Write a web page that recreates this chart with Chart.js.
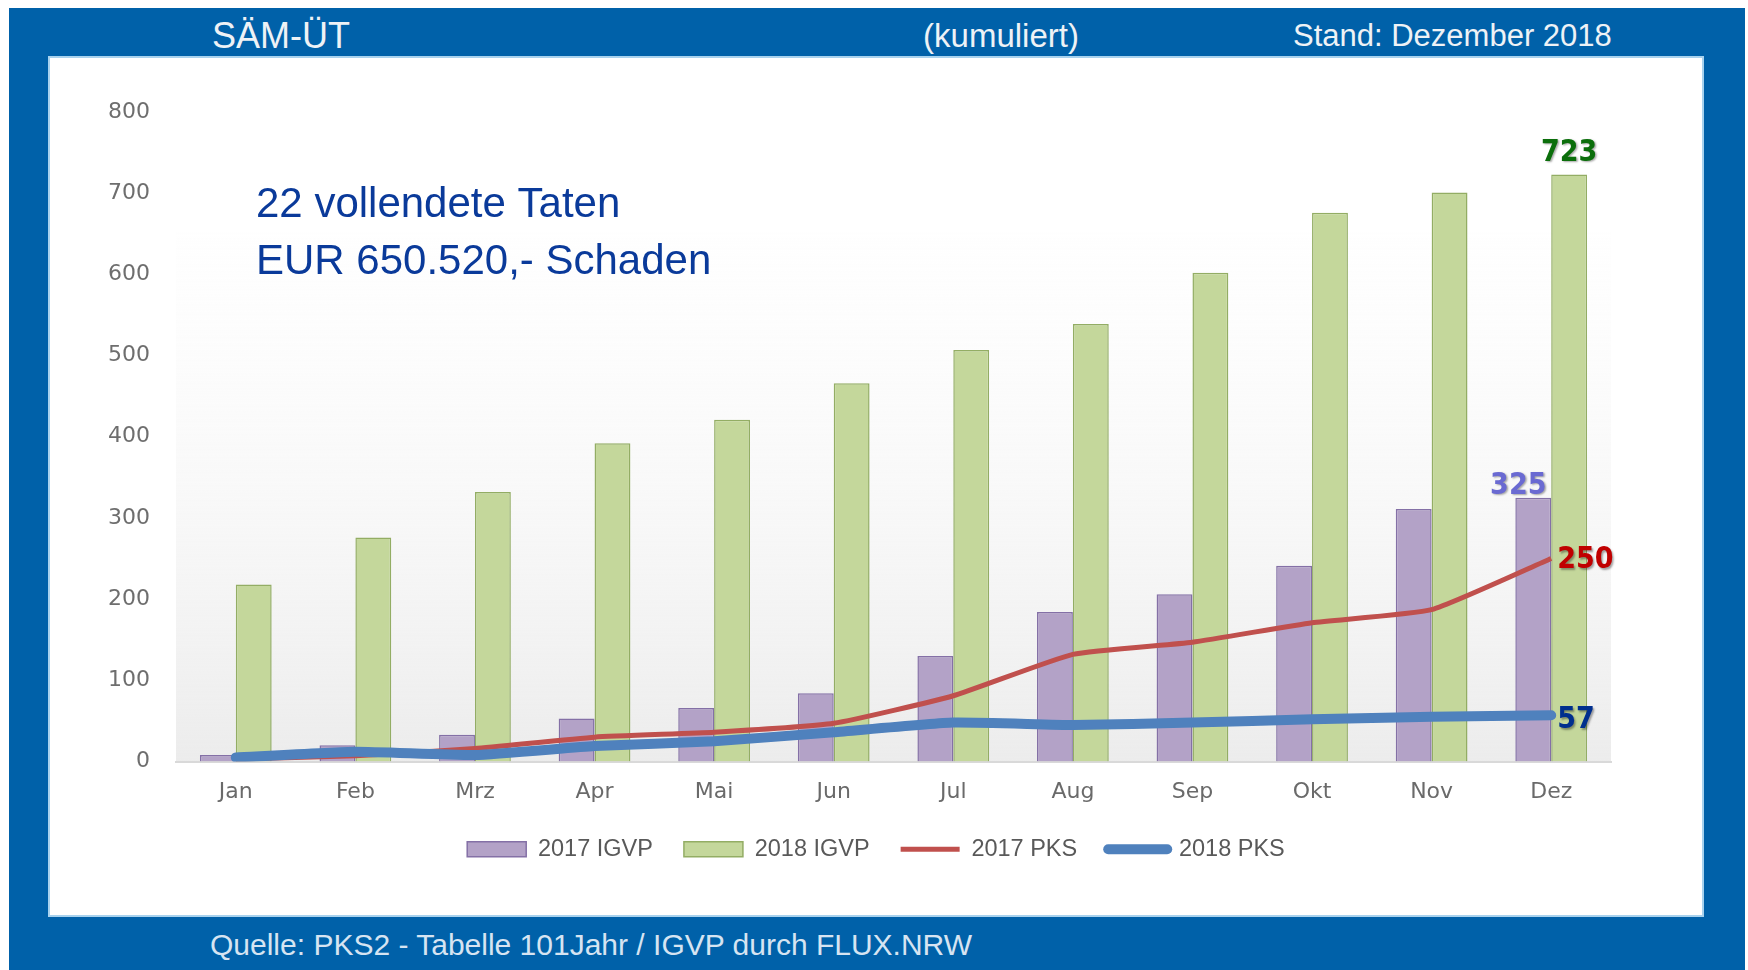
<!DOCTYPE html>
<html>
<head>
<meta charset="utf-8">
<script src="https://cdn.jsdelivr.net/npm/chart.js@4.4.1/dist/chart.umd.min.js"></script>
<style>
body { margin:0; background:#fff; width:1748px; height:970px; overflow:hidden; font-family:"Liberation Sans", Arial, sans-serif; }
#frame { position:absolute; left:9px; top:8px; width:1736px; height:962px; background:#0061a9; }
#panel { position:absolute; left:50px; top:58px; width:1652px; height:857px; background:#fff; box-shadow:0 0 0 2px #a8d2ee; }
.txt { position:absolute; color:#eef2f6; white-space:nowrap; line-height:1; }
</style>
</head>
<body>
<div id="frame"></div>
<div class="txt" style="left:212px; top:18px; font-size:36px;">SÄM-ÜT</div>
<div class="txt" style="left:1001px; top:19px; font-size:33px; transform:translateX(-50%);">(kumuliert)</div>
<div class="txt" style="left:1293px; top:20px; font-size:31px;">Stand: Dezember 2018</div>
<div class="txt" style="left:210px; top:930px; font-size:30px; color:#d6e4f2;">Quelle: PKS2 - Tabelle 101Jahr / IGVP durch FLUX.NRW</div>
<div id="panel"><canvas id="chart" width="1652" height="857" style="width:1652px;height:857px"></canvas></div>
<script>
var months = ['Jan', 'Feb', 'Mrz', 'Apr', 'Mai', 'Jun', 'Jul', 'Aug', 'Sep', 'Okt', 'Nov', 'Dez'];
var igvp2017 = [8, 20, 33, 53, 66, 84, 130, 184, 206, 241, 311, 325];
var igvp2018 = [218, 276, 332, 392, 421, 466, 507, 539, 602, 676, 701, 723];
var pks2017 = [3, 7, 16, 30, 36, 47, 81, 132, 147, 171, 187, 250];
var pks2018 = [5, 12, 8, 19, 25, 36, 48, 45, 48, 52, 55, 57];
var yTicks = [0, 100, 200, 300, 400, 500, 600, 700, 800];
var noteLines = ['22 vollendete Taten', 'EUR 650.520,- Schaden'];

// light grey fade behind the plot
var plotBackground = {
    id: 'plotBackground',
    beforeDraw: function(chart) {
        var a = chart.chartArea, ctx = chart.ctx;
        var g = ctx.createLinearGradient(0, a.top, 0, a.bottom);
        g.addColorStop(0, 'rgba(255,255,255,0)');
        g.addColorStop(1, '#ececec');
        ctx.save();
        ctx.fillStyle = g;
        ctx.fillRect(a.left, a.top + 120, a.right - a.left, a.bottom - a.top - 120);
        ctx.restore();
    }
};

// end-of-series numbers and the note in the upper left
var valueLabels = {
    id: 'valueLabels',
    afterDatasetsDraw: function(chart) {
        var ctx = chart.ctx, last = months.length - 1;
        var b17 = chart.getDatasetMeta(0).data[last];
        var b18 = chart.getDatasetMeta(1).data[last];
        var l17 = chart.getDatasetMeta(2).data[last];
        var l18 = chart.getDatasetMeta(3).data[last];
        ctx.save();
        ctx.font = 'bold 30px "DejaVu Sans Condensed", "Liberation Sans", sans-serif';
        ctx.shadowColor = 'rgba(0,0,0,0.35)';
        ctx.shadowOffsetX = 1.5;
        ctx.shadowOffsetY = 1.5;
        ctx.shadowBlur = 2;
        ctx.textBaseline = 'alphabetic';
        ctx.textAlign = 'center';
        ctx.fillStyle = '#0b6e0b';
        ctx.fillText(igvp2018[last], b18.x, b18.y - 14);
        ctx.fillStyle = '#6a6ad2';
        ctx.fillText(igvp2017[last], b17.x - 15, b17.y - 4);
        ctx.textBaseline = 'middle';
        ctx.textAlign = 'left';
        ctx.fillStyle = '#c00000';
        ctx.fillText(pks2017[last], l17.x + 6, l17.y + 2);
        ctx.fillStyle = '#002f8e';
        ctx.fillText(pks2018[last], l18.x + 6, l18.y + 5);
        ctx.restore();

        ctx.save();
        ctx.font = '42px "Liberation Sans", Arial, sans-serif';
        ctx.fillStyle = '#0a3a9a';
        ctx.textBaseline = 'alphabetic';
        ctx.fillText(noteLines[0], 206, 159);
        ctx.fillText(noteLines[1], 206, 216);
        ctx.restore();
    }
};

var ctx = document.getElementById('chart').getContext('2d');
var chart = new Chart(ctx, {
    type: 'bar',
    data: {
        labels: months,
        datasets: [{
            label: '2017 IGVP',
            data: igvp2017,
            backgroundColor: '#b3a2c7',
            borderColor: '#8470a6',
            borderWidth: 1.5,
            order: 2
        }, {
            label: '2018 IGVP',
            data: igvp2018,
            backgroundColor: '#c4d79b',
            borderColor: '#93ad64',
            borderWidth: 1.5,
            order: 3
        }, {
            type: 'line',
            label: '2017 PKS',
            data: pks2017,
            borderColor: '#c0504d',
            borderWidth: 5,
            pointRadius: 0,
            tension: 0.15,
            order: 1
        }, {
            type: 'line',
            label: '2018 PKS',
            data: pks2018,
            borderColor: '#4f81bd',
            borderWidth: 10,
            borderCapStyle: 'round',
            pointRadius: 0,
            tension: 0.15,
            order: 0
        }]
    },
    options: {
        responsive: false,
        animation: false,
        datasets: {
            bar: { categoryPercentage: 0.6, barPercentage: 1.0 }
        },
        layout: { padding: { left: 0, right: 0, top: 54, bottom: 44 } },
        scales: {
            x: {
                grid: { display: false, drawTicks: false },
                border: { color: '#d9d9d9', width: 2 },
                ticks: { padding: 18, color: '#6a6a6a', font: { family: 'DejaVu Sans', size: 22 } },
                afterFit: function(s) { s.height = 45; }
            },
            y: {
                min: 0,
                max: 800,
                afterBuildTicks: function(s) { s.ticks = yTicks.map(function(v) { return { value: v }; }); },
                grid: { display: false, drawTicks: false },
                border: { display: false },
                ticks: { padding: 26, color: '#6e6e6e', font: { family: 'DejaVu Sans', size: 22 } },
                afterFit: function(s) { s.width = 126; }
            },
            // empty space on the right so the legend centres on the whole panel
            yRight: {
                position: 'right',
                grid: { display: false, drawTicks: false },
                border: { display: false },
                ticks: { display: false },
                afterFit: function(s) { s.width = 91; }
            }
        },
        plugins: {
            tooltip: { enabled: false },
            legend: {
                position: 'bottom',
                labels: {
                    usePointStyle: true,
                    pointStyleWidth: 59,
                    boxHeight: 15,
                    padding: 31,
                    color: '#595959',
                    font: { family: 'Liberation Sans', size: 23.5 },
                    sort: function(a, b) { return a.datasetIndex - b.datasetIndex; },
                    generateLabels: function(c) {
                        var items = Chart.defaults.plugins.legend.labels.generateLabels(c);
                        items.forEach(function(it) {
                            var ds = c.data.datasets[it.datasetIndex];
                            if (ds.type === 'line') {
                                it.pointStyle = 'line';
                                it.lineWidth = ds.borderWidth;
                                it.strokeStyle = ds.borderColor;
                                it.lineCap = ds.borderCapStyle || 'butt';
                            } else {
                                it.pointStyle = 'rect';
                                it.lineWidth = 1.5;
                            }
                        });
                        return items;
                    }
                }
            }
        }
    },
    plugins: [plotBackground, valueLabels]
});
</script>
</body>
</html>
